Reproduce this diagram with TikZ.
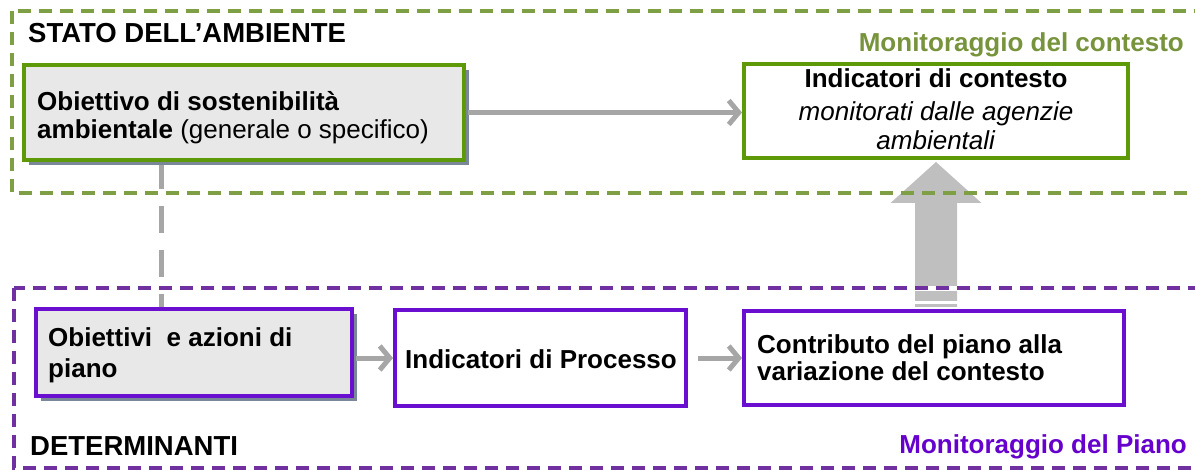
\documentclass[tikz,border=0pt]{standalone}
\usepackage{fontspec}
\setmainfont{Liberation Sans}
\usetikzlibrary{arrows.meta,shadows,calc,backgrounds}
\definecolor{frgreen}{HTML}{7F9F45}
\definecolor{bxgreen}{HTML}{5E9A08}
\definecolor{txgreen}{HTML}{77933C}
\definecolor{frpurple}{HTML}{7030A0}
\definecolor{bxpurple}{HTML}{6A0FD0}
\definecolor{txpurple}{HTML}{6600CC}
\definecolor{arrgray}{HTML}{A6A6A6}
\definecolor{bigarr}{HTML}{BFBFBF}
\definecolor{boxfill}{HTML}{E8E8E8}
\definecolor{shadowcol}{HTML}{7A8798}
\begin{document}
\begin{tikzpicture}[x=1pt,y=-1pt,font=\fontsize{26}{30}\selectfont,
  gbox/.style={draw=bxgreen,line width=4pt,inner sep=0pt},
  pbox/.style={draw=bxpurple,line width=4pt,inner sep=0pt},
  greyfill/.style={fill=boxfill,drop shadow={shadow xshift=5pt,shadow yshift=-5pt,fill=shadowcol,opacity=1}},
  whitefill/.style={fill=white},
  lbl/.style={inner sep=0pt,anchor=base west},
  clbl/.style={inner sep=0pt,anchor=base},
  title/.style={inner sep=0pt,font=\fontsize{27.5}{30}\selectfont\bfseries},
  corner/.style={inner sep=0pt,anchor=base east,font=\fontsize{26}{30}\selectfont\bfseries},
  conn/.style={draw=arrgray,line width=5pt,-{Straight Barb[length=10pt,width=24pt]}},
  vdash/.style={draw=arrgray,line width=5pt,dash pattern=on 27pt off 17pt},
  frg/.style={draw=frgreen,line width=3.5pt,dash pattern=on 13pt off 8pt},
  frp/.style={draw=frpurple,line width=3.5pt,dash pattern=on 13pt off 8pt}]
\useasboundingbox (0,0) rectangle (1195,473);

% boxes
\node[gbox,greyfill,minimum width=440pt,minimum height=95pt] (obj) at (244,112.5) {};
\node[gbox,whitefill,minimum width=384pt,minimum height=94pt] (ctx) at (936,111) {};
\node[pbox,greyfill,minimum width=316pt,minimum height=87pt] (piano) at (194,352.5) {};
\node[pbox,whitefill,minimum width=291pt,minimum height=96pt] (proc) at (540.5,358) {};
\node[pbox,whitefill,minimum width=380pt,minimum height=94pt] (contr) at (934,358) {};

% texts in boxes
\node[lbl] (obj1) at (37,111) {\textbf{Obiettivo di sostenibilità}};
\node[lbl] (obj2) at (37,139) {\textbf{ambientale} (generale o specifico)};
\node[clbl] (ctx1) at (936,88) {\textbf{Indicatori di contesto}};
\node[clbl] (ctx2) at (936,121) {\textit{monitorati dalle agenzie}};
\node[clbl] (ctx3) at (936,150) {\textit{ambientali}};
\node[lbl] (pia1) at (48,346) {\textbf{Obiettivi\ \ e azioni di}};
\node[lbl] (pia2) at (48,377) {\textbf{piano}};
\node[clbl] (proct) at (541,368) {\textbf{Indicatori di Processo}};
\node[lbl] (con1) at (757,353) {\textbf{Contributo del piano alla}};
\node[lbl] (con2) at (757,380) {\textbf{variazione del contesto}};

% titles
\node[title,anchor=base west] (stato) at (28,43) {STATO DELL’AMBIENTE};
\node[title,anchor=base west] (det) at (30,455) {DETERMINANTI};
\node[corner,text=txgreen] (monc) at (1184,52) {Monitoraggio del contesto};
\node[corner,text=txpurple] (monp) at (1187,453) {Monitoraggio del Piano};

% background: big arrow, frames, dashed connector
\begin{scope}[on background layer]
  \coordinate (tip) at ($(ctx.south)+(0,2)$);
  \coordinate (tail) at ($(ctx.south |- contr.north)+(0,-2)$);
  \fill[bigarr] (tip) -- ($(tip)+(45.5,41)$) -- ($(tip)+(21,41)$) -- ($(tail)+(21,0)$)
     -- ($(tail)+(-21,0)$) -- ($(tip)+(-21,41)$) -- ($(tip)+(-45.5,41)$) -- cycle;
  \fill[white] ($(tail)+(-23,-21)$) rectangle ($(tail)+(23,-16)$);
  \fill[white] ($(tail)+(-23,-6)$) rectangle ($(tail)+(23,-3)$);
  \draw[frg] (12,11) rectangle (1215,193);
  \draw[frp] (14,288) rectangle (1215,468);
  \coordinate (vx) at (161,0);
  \draw[vdash] (obj.south -| vx) -- (piano.north -| vx);
\end{scope}

% connectors
\draw[conn,shorten <=2pt] (obj.east) -- (obj.east -| ctx.west);
\draw[conn,shorten <=2pt] (piano.east |- proc.west) -- (proc.west);
\draw[conn,shorten <=10pt] (proc.east) -- (proc.east -| contr.west);
\end{tikzpicture}
\end{document}
